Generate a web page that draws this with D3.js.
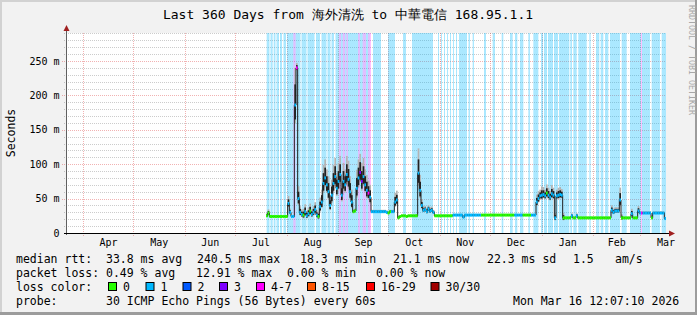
<!DOCTYPE html>
<html>
<head>
<meta charset="utf-8">
<script src="https://cdn.jsdelivr.net/npm/d3@7"></script>
<style>
  body { margin: 0; background: #f2f2f2; }
  svg text { font-family: "DejaVu Sans Mono", monospace; }
</style>
</head>
<body>
<svg id="chart"></svg>
<script>
// ---- data ----
var title = 'Last 360 Days from 海外清洗 to 中華電信 168.95.1.1';
var startTime = new Date(2025, 2, 21, 12, 7, 10);
var endTime = new Date(2026, 2, 16, 12, 7, 10);
var firstDay = 120; // first day (from start) that has samples

// median rtt per day (ms), days 120..359
var medianMs = [
  25, 29, 24, 24, 24, 24, 24, 24, 24, 24,
  24, 24, 24, 43, 30, 24, 24, 186, 240, 50,
  30, 27, 26, 31, 25, 28, 32, 27, 30, 34,
  26, 24, 38, 45, 72, 80, 70, 60, 40, 55,
  72, 82, 65, 75, 85, 55, 75, 70, 85, 78,
  60, 45, 31, 32, 65, 80, 88, 75, 82, 70,
  62, 58, 52, 31, 31, 31, 31, 31, 31, 31,
  31, 31, 30, 29, 31, 31, 31, 45, 48, 22,
  24, 25, 25, 25, 24, 25, 25, 25, 25, 25,
  25, 87, 62, 40, 33, 34, 31, 35, 32, 33,
  30, 25, 25, 25, 25, 25, 25, 25, 25, 25,
  25, 25, 26, 26, 26, 26, 26, 26, 23, 26,
  26, 26, 26, 26, 26, 26, 26, 26, 26, 26,
  26, 26, 26, 26, 26, 26, 26, 26, 26, 26,
  26, 26, 26, 26, 26, 26, 26, 26, 26, 26,
  26, 26, 26, 26, 26, 26, 26, 26, 26, 26,
  26, 26, 45, 50, 54, 55, 56, 54, 58, 55,
  52, 57, 55, 22, 54, 55, 56, 55, 22, 22,
  22, 22, 22, 25, 22, 22, 25, 22, 22, 22,
  22, 22, 22, 22, 22, 22, 22, 22, 22, 22,
  22, 22, 22, 22, 22, 22, 22, 33, 30, 32,
  32, 32, 48, 22, 22, 22, 22, 22, 22, 28,
  22, 22, 22, 32, 29, 29, 29, 29, 29, 29,
  29, 22, 29, 29, 29, 29, 29, 29, 29, 21
];

// smoke spread per day (ms)
var spreadMs = [
  4, 6, 2, 2, 2, 2, 2, 2, 2, 2,
  2, 2, 2, 12, 6, 2, 2, 60, 8, 20,
  10, 8, 10, 12, 8, 10, 12, 8, 10, 12,
  8, 8, 15, 20, 30, 30, 25, 25, 15, 25,
  30, 30, 25, 30, 30, 20, 30, 25, 30, 30,
  25, 20, 4, 4, 30, 30, 30, 30, 30, 25,
  25, 20, 20, 3, 3, 3, 3, 3, 3, 3,
  3, 3, 3, 3, 3, 3, 3, 15, 15, 4,
  2, 2, 2, 2, 2, 2, 2, 2, 2, 2,
  3, 40, 25, 10, 6, 6, 6, 6, 6, 6,
  4, 2, 2, 2, 2, 2, 2, 2, 2, 2,
  2, 2, 2, 2, 2, 2, 2, 2, 3, 2,
  2, 2, 2, 2, 2, 2, 2, 2, 2, 2,
  2, 2, 2, 2, 2, 2, 2, 2, 2, 2,
  2, 2, 2, 2, 2, 2, 2, 2, 2, 2,
  2, 2, 2, 2, 2, 2, 2, 2, 2, 2,
  2, 2, 12, 12, 10, 14, 12, 10, 14, 12,
  10, 14, 12, 8, 10, 12, 12, 10, 8, 2,
  2, 2, 2, 4, 2, 2, 4, 2, 2, 2,
  2, 2, 2, 2, 2, 2, 2, 2, 2, 2,
  2, 2, 2, 2, 2, 2, 2, 8, 6, 6,
  6, 6, 20, 6, 2, 2, 2, 2, 2, 8,
  2, 2, 2, 8, 3, 3, 3, 3, 3, 3,
  3, 4, 3, 3, 3, 3, 3, 3, 3, 2
];

// loss class of the median per day (index into lossColors)
var lossDays = (
  '0000000000' + '0001111141' + '1101110111' + '1011111111' +
  '1111111111' + '1100113311' + '1411111111' + '1110011110' +
  '0000000000' + '0111111111' + '1000000000' + '0011111111' +
  '1111111110' + '0000000000' + '0000000001' + '1111000001' +
  '1111111101' + '1111111100' + '0001001000' + '0000000000' +
  '0000000111' + '1110000001' + '0001141111' + '1011111111'
).split('').map(Number);

// loss background bands [fromDay, toDay, lossClass]
var lossBands = [
  [120.4, 122.1, 1], [122.7, 124.0, 1], [124.6, 125.7, 1], [126.3, 127.8, 1],
  [128.4, 129.6, 1], [130.5, 132.0, 1], [132.6, 136.4, 1], [136.4, 137.8, 3],
  [137.8, 140.7, 1], [141.3, 144.3, 1], [144.9, 149.1, 1], [150.0, 152.4, 1],
  [153.3, 156.3, 1], [156.9, 158.7, 1], [159.3, 160.8, 1], [161.7, 163.8, 1],
  [163.8, 165.0, 3], [165.0, 166.0, 1], [166.0, 167.5, 3], [167.5, 168.2, 1],
  [168.2, 169.2, 3], [169.2, 175.2, 1], [175.2, 176.4, 3], [176.4, 178.0, 1],
  [178.0, 180.0, 3], [180.0, 181.2, 1], [181.2, 182.4, 3], [182.4, 183.0, 4],
  [184.2, 189.0, 1], [193.2, 197.4, 1], [202.2, 204.0, 1], [207.6, 220.2, 1],
  [223.2, 223.8, 1], [225.0, 225.6, 1], [226.8, 227.4, 1], [228.6, 229.2, 1],
  [230.4, 231.0, 1], [232.2, 232.8, 1], [234.0, 234.6, 1], [235.8, 240.6, 1],
  [241.5, 242.4, 1], [244.0, 244.8, 1], [250.8, 252.0, 1], [256.0, 257.4, 1],
  [261.4, 262.4, 1], [266.4, 268.0, 1], [269.4, 270.8, 1], [272.4, 274.4, 1],
  [277.4, 278.4, 1], [280.4, 283.4, 1], [285.0, 286.2, 1], [286.8, 288.6, 1],
  [289.2, 292.2, 1], [292.8, 295.2, 1], [295.8, 302.0, 1], [302.6, 303.6, 1],
  [304.4, 306.4, 1], [307.4, 312.4, 1], [314.0, 314.8, 1], [318.0, 320.0, 1],
  [320.8, 322.4, 1], [323.4, 325.4, 1], [326.4, 332.4, 1], [333.4, 336.4, 1],
  [338.4, 345.0, 1], [345.0, 345.6, 4], [345.6, 350.4, 1], [351.4, 356.4, 1],
  [357.4, 360.0, 1]
];

var monthNames = ['Apr', 'May', 'Jun', 'Jul', 'Aug', 'Sep', 'Oct', 'Nov', 'Dec', 'Jan', 'Feb', 'Mar'];
var yMajor = [0, 50, 100, 150, 200, 250];
var yMajorLabels = ['0', '50 m', '100 m', '150 m', '200 m', '250 m'];

var lossColors = ['#26ff00', '#00b8ff', '#0059ff', '#7e00ff', '#ff00ff', '#ff5500', '#ff0000', '#a00000'];
var lossLabels = ['0', '1', '2', '3', '4-7', '8-15', '16-29', '30/30'];
var lossBoxX = [108, 145.5, 182.5, 219, 256, 307, 366, 430.5];

var legendRtt = [[16, 'median rtt:'], [106, '33.8 ms avg'], [197, '240.5 ms max'], [300, '18.3 ms min'],
                 [393, '21.1 ms now'], [487, '22.3 ms sd'], [573, '1.5'], [615, 'am/s']];
var legendLoss = [[16, 'packet loss:'], [106, '0.49 % avg'], [196, '12.91 % max'], [287, '0.00 % min'], [376, '0.00 % now']];
var legendProbe = [[16, 'probe:'], [106, '30 ICMP Echo Pings (56 Bytes) every 60s'], [513, 'Mon Mar 16 12:07:10 2026']];

// ---- drawing ----
var width = 697, height = 315;
var plotL = 66, plotR = 666, plotT = 33, plotB = 233;
var DAY = 864e5;

function dayDate(d) { return new Date(+startTime + d * DAY); }

var x = d3.scaleTime().domain([startTime, endTime]).range([plotL, plotR]);
var y = d3.scaleLinear().domain([0, 290.7]).range([plotB, plotT]);

var svg = d3.select('#chart')
   .attr('width', width)
   .attr('height', height);

// background and frame
svg.append('rect').attr('width', width).attr('height', height).attr('fill', '#f2f2f2');
svg.append('rect').attr('x', 0).attr('y', 0).attr('width', width).attr('height', 2).attr('fill', '#d2d2d2');
svg.append('rect').attr('x', 0).attr('y', 0).attr('width', 2).attr('height', height).attr('fill', '#d2d2d2');
svg.append('rect').attr('x', 0).attr('y', height - 3).attr('width', width).attr('height', 3).attr('fill', '#9c9c9c');
svg.append('rect').attr('x', width - 2).attr('y', 0).attr('width', 2).attr('height', height).attr('fill', '#9c9c9c');

// canvas
svg.append('rect')
   .attr('x', plotL).attr('y', plotT)
   .attr('width', plotR - plotL).attr('height', plotB - plotT)
   .attr('fill', '#ffffff');

// grid
var grid = svg.append('g').attr('shape-rendering', 'crispEdges');
var minorTicks = d3.range(10, 291, 10).filter(function(v) { return v % 50 !== 0; });
grid.selectAll('.minor')
   .data(minorTicks)
   .enter().append('line')
   .attr('x1', plotL - 2).attr('x2', plotR)
   .attr('y1', function(d) { return Math.round(y(d)) + 0.5; })
   .attr('y2', function(d) { return Math.round(y(d)) + 0.5; })
   .attr('stroke', 'rgba(0,0,0,0.2)')
   .attr('stroke-dasharray', '1,1');

grid.selectAll('.major')
   .data(yMajor.slice(1))
   .enter().append('line')
   .attr('x1', plotL - 4).attr('x2', plotR)
   .attr('y1', function(d) { return Math.round(y(d)) + 0.5; })
   .attr('y2', function(d) { return Math.round(y(d)) + 0.5; })
   .attr('stroke', 'rgba(210,0,0,0.3)')
   .attr('stroke-dasharray', '1,1');

var monthStarts = d3.timeMonth.range(new Date(2025, 3, 1), new Date(2026, 3, 2));
grid.selectAll('.vmajor')
   .data(monthStarts.filter(function(d) { return d < endTime; }))
   .enter().append('line')
   .attr('x1', function(d) { return Math.round(x(d)) + 0.5; })
   .attr('x2', function(d) { return Math.round(x(d)) + 0.5; })
   .attr('y1', plotT).attr('y2', plotB + 3)
   .attr('stroke', 'rgba(210,0,0,0.3)')
   .attr('stroke-dasharray', '1,1');

// loss background bands
svg.append('g')
   .selectAll('rect')
   .data(lossBands)
   .enter().append('rect')
   .attr('x', function(d) { return x(dayDate(d[0])); })
   .attr('width', function(d) { return x(dayDate(d[1])) - x(dayDate(d[0])); })
   .attr('y', plotT)
   .attr('height', plotB - plotT)
   .attr('fill', function(d) { return lossColors[d[2]]; })
   .attr('fill-opacity', function(d) { return d[2] === 1 ? 0.33 : 0.25; });

var days = medianMs.map(function(v, i) {
   return { day: firstDay + i, med: v, spread: spreadMs[i], loss: lossDays[i] };
});

// smoke
var smoke = svg.append('g');
smoke.selectAll('.halo')
   .data(days)
   .enter().append('rect')
   .attr('x', function(d) { return x(dayDate(d.day)); })
   .attr('width', function(d) { return x(dayDate(d.day + 1)) - x(dayDate(d.day)); })
   .attr('y', function(d) { return y(d.med + d.spread * 0.9); })
   .attr('height', function(d) { return y(d.med - d.spread * 0.45) - y(d.med + d.spread * 0.9); })
   .attr('fill', '#b4b4b4');

smoke.selectAll('.core')
   .data(days)
   .enter().append('rect')
   .attr('x', function(d) { return x(dayDate(d.day)); })
   .attr('width', function(d) { return x(dayDate(d.day + 1)) - x(dayDate(d.day)); })
   .attr('y', function(d) { return y(d.med + d.spread * 0.5); })
   .attr('height', function(d) { return y(d.med - d.spread * 0.35) - y(d.med + d.spread * 0.5); })
   .attr('fill', '#222222');

// median line (black step)
var stepData = days.concat([{ day: firstDay + days.length, med: medianMs[medianMs.length - 1] }]);
svg.append('path')
   .datum(stepData)
   .attr('fill', 'none')
   .attr('stroke', '#202020')
   .attr('stroke-width', 1)
   .attr('d', d3.line()
      .curve(d3.curveStepAfter)
      .x(function(d) { return x(dayDate(d.day)); })
      .y(function(d) { return y(d.med); }));

// median coloured by loss
svg.append('g')
   .selectAll('rect')
   .data(days)
   .enter().append('rect')
   .attr('x', function(d) { return x(dayDate(d.day)); })
   .attr('width', function(d) { return x(dayDate(d.day + 1)) - x(dayDate(d.day)); })
   .attr('y', function(d) { return y(d.med) - 1.5; })
   .attr('height', 3)
   .attr('fill', function(d) { return lossColors[d.loss]; });

// axes
var axis = svg.append('g').attr('shape-rendering', 'crispEdges');
axis.append('line')
   .attr('x1', plotL + 0.5).attr('x2', plotL + 0.5)
   .attr('y1', plotB + 2).attr('y2', plotT - 3)
   .attr('stroke', '#606060');
axis.append('line')
   .attr('x1', plotL - 2).attr('x2', plotR + 3)
   .attr('y1', plotB + 0.5).attr('y2', plotB + 0.5)
   .attr('stroke', '#000000');

svg.append('path')
   .attr('d', 'M' + (plotL - 2.5) + ',' + (plotT - 2) + 'L' + (plotL + 3.5) + ',' + (plotT - 2) + 'L' + (plotL + 0.5) + ',' + (plotT - 8) + 'Z')
   .attr('fill', '#a02020');
svg.append('path')
   .attr('d', 'M' + (plotR + 3) + ',' + (plotB - 2.5) + 'L' + (plotR + 3) + ',' + (plotB + 3.5) + 'L' + (plotR + 9) + ',' + (plotB + 0.5) + 'Z')
   .attr('fill', '#a02020');

// y labels
svg.append('g')
   .selectAll('text')
   .data(yMajor)
   .enter().append('text')
   .attr('x', 59.5)
   .attr('y', function(d) { return y(d) + 3.5; })
   .attr('text-anchor', 'end')
   .attr('font-size', '10px')
   .attr('fill', '#000')
   .text(function(d, i) { return yMajorLabels[i]; });

// month labels (centred in the month)
svg.append('g')
   .selectAll('text')
   .data(monthNames)
   .enter().append('text')
   .attr('x', function(d, i) { return (x(monthStarts[i]) + x(monthStarts[i + 1])) / 2; })
   .attr('y', 246)
   .attr('text-anchor', 'middle')
   .attr('font-size', '10px')
   .attr('fill', '#000')
   .text(function(d) { return d; });

// title and side texts
svg.append('text')
   .attr('x', 348).attr('y', 19)
   .attr('text-anchor', 'middle')
   .attr('font-size', '13px')
   .attr('fill', '#000')
   .text(title);

svg.append('text')
   .attr('transform', 'translate(15,133) rotate(-90)')
   .attr('text-anchor', 'middle')
   .attr('font-size', '11.5px')
   .attr('fill', '#000')
   .text('Seconds');

svg.append('text')
   .attr('transform', 'translate(689,5) rotate(90)')
   .attr('font-size', '8.3px')
   .attr('fill', '#a8a8a8')
   .text('RRDTOOL / TOBI OETIKER');

// legend
function legendLine(items, yPos) {
   svg.append('g')
      .selectAll('text')
      .data(items)
      .enter().append('text')
      .attr('x', function(d) { return d[0]; })
      .attr('y', yPos)
      .attr('font-size', '11.5px')
      .attr('fill', '#000')
      .text(function(d) { return d[1]; });
}
legendLine(legendRtt, 263);
legendLine(legendLoss, 277);
legendLine([[16, 'loss color:']], 291);
legendLine(legendProbe, 304.5);

var lossLegend = svg.append('g');
lossLegend.selectAll('rect')
   .data(lossColors)
   .enter().append('rect')
   .attr('x', function(d, i) { return lossBoxX[i] + 0.5; })
   .attr('y', 282.5)
   .attr('width', 8)
   .attr('height', 8)
   .attr('fill', function(d) { return d; })
   .attr('stroke', '#000')
   .attr('stroke-width', 1);
lossLegend.selectAll('text')
   .data(lossLabels)
   .enter().append('text')
   .attr('x', function(d, i) { return lossBoxX[i] + 15; })
   .attr('y', 291)
   .attr('font-size', '11.5px')
   .attr('fill', '#000')
   .text(function(d) { return d; });
</script>
</body>
</html>
